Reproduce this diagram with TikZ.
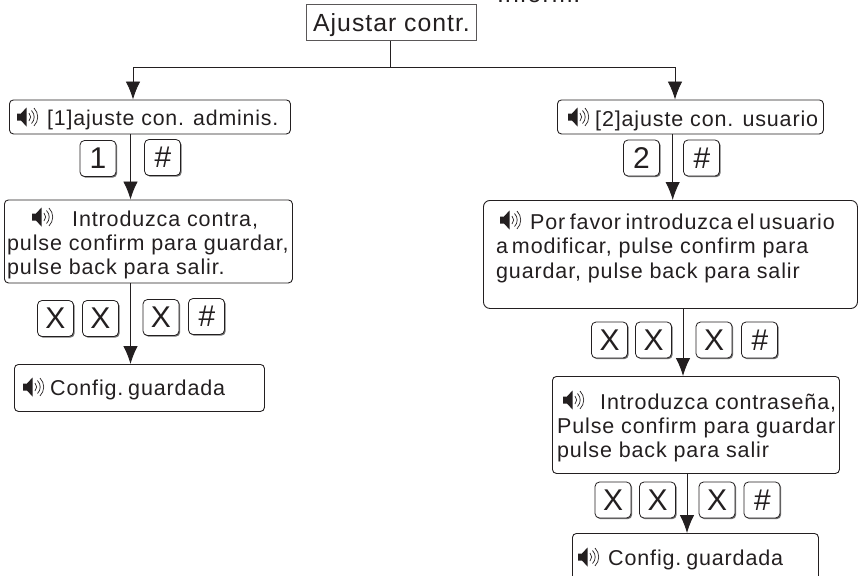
\documentclass[tikz,border=0pt]{standalone}
\usepackage{fontspec}
\usetikzlibrary{shadows,arrows.meta}
\setmainfont{Liberation Sans}
\newfontfamily\spaced[LetterSpace=4]{Liberation Sans}
\definecolor{ink}{HTML}{231F20}
\tikzset{
  flowbox/.style={draw=ink,line width=0.9pt,rounded corners=4pt,inner sep=0pt,anchor=north west},
  bigbox/.style={flowbox,rounded corners=6.5pt},
  titlebox/.style={flowbox,rounded corners=0pt,draw=ink!75},
  keycap/.style={draw=ink,line width=0.8pt,rounded corners=4.5pt,fill=white,inner sep=0pt,
    minimum width=36pt,minimum height=36pt,font=\fontsize{30}{30}\selectfont,text=ink,
    drop shadow={shadow xshift=1.2pt,shadow yshift=-1.2pt,fill=black!55,opacity=1}},
  keyhash/.style={keycap,font=\itshape\fontsize{30}{30}\selectfont},
  txt/.style={anchor=base west,inner sep=0pt,text=ink,font=\spaced\fontsize{21.5}{21.5}\selectfont},
  small/.style={txt,font=\spaced\fontsize{21.3}{21.3}\selectfont},
  big/.style={txt,font=\spaced\fontsize{24.8}{24.8}\selectfont},
  link/.style={draw=ink,line width=0.9pt},
  flow/.style={draw=ink,line width=0.9pt,-{Latex[length=18pt,width=14.5pt]}},
  snd/.pic={
    \fill[ink] (0,-3.5)--(4,-3.5)--(9.5,-9.5)--(9.5,9.5)--(4,3.5)--(0,3.5)--cycle;
    \draw[ink,line width=0.7pt] (12,-4) arc[start angle=-45,end angle=45,radius=5.66];
    \draw[ink,line width=0.7pt] (14.5,-6.5) arc[start angle=-45,end angle=45,radius=9.2];
    \draw[ink,line width=0.7pt] (17,-9) arc[start angle=-45,end angle=45,radius=12.7];
  }
}
\newcommand{\boxat}[6][flowbox]{\node[#1,minimum width=#5pt-#3pt,minimum height=#6pt-#4pt] (#2) at (#3,#4) {};}
\newcommand{\tight}{\spaceskip=2.5pt\relax}
\newcommand{\snug}{\spaceskip=4.5pt\relax}
\begin{document}
\begin{tikzpicture}[x=1pt,y=-1pt]
\useasboundingbox (0,0) rectangle (860,576);
\clip (0,0) rectangle (860,576);
% routing guides
\coordinate (xL) at (133,67);
\coordinate (xR) at (675,67);
\coordinate (xT) at (390,67);
\coordinate (x1) at (130.5,0);
\coordinate (x2) at (672.7,0);
\coordinate (x3) at (683,0);
\coordinate (x4) at (687,0);
% boxes
\boxat[titlebox]{top}{305.5}{3.5}{476}{40}
\boxat{a1}{9}{99.5}{290}{133.5}
\boxat{a2}{4}{199.5}{292}{282.5}
\boxat{a3}{14}{364}{264}{411}
\boxat{b1}{557}{99.5}{823}{133.5}
\boxat[bigbox]{b2}{483}{200}{857}{308}
\boxat{b3}{552}{376}{839}{473}
\boxat{b4}{572}{533}{818}{590}
% connectors
\draw[link] (top.south -| xT) -- (xT);
\draw[flow] (xL) -- (xL |- a1.north);
\draw[flow] (xR) -- (xR |- b1.north);
\draw[link] (xL) -- (xR);
\draw[flow] (x1 |- a1.south) -- (x1 |- a2.north);
\draw[flow] (x1 |- a2.south) -- (x1 |- a3.north);
\draw[flow] (x2 |- b1.south) -- (x2 |- b2.north);
\draw[flow] (x3 |- b2.south) -- (x3 |- b3.north);
\draw[flow] (x4 |- b3.south) -- (x4 |- b4.north);
% text
\node[big] (t0) at (313,31) {Ajustar contr.};
\node[small] (t1) at (47,125) {[1]ajuste con. adminis.};
\pic at (17,117) {snd};
\node[txt] (t2a) at (72,226) {Introduzca contra,};
\pic at (32,217) {snd};
\node[txt] (t2b) at (7,250) {pulse confirm para guardar,};
\node[txt] (t2c) at (7,274) {pulse back para salir.};
\node[txt] (t3) at (50,395) {\tight Config. guardada};
\pic at (23,387) {snd};
\node[txt] (t4) at (595,126) {[2]ajuste con. usuario};
\pic at (568,117) {snd};
\node[txt] (t5a) at (530,229) {\snug Por favor introduzca el usuario};
\pic at (500,220) {snd};
\node[txt] (t5b) at (496,253) {a\hspace{-3pt} modificar, pulse confirm para};
\node[txt] (t5c) at (496,278) {guardar, pulse back para salir};
\node[txt] (t6a) at (600,409) {Introduzca contraseña,};
\pic at (563,400) {snd};
\node[txt] (t6b) at (557,433) {Pulse confirm para guardar};
\node[txt] (t6c) at (557,457) {pulse back para salir};
\node[txt] (t7) at (608,565) {\tight Config. guardada};
\pic at (578,557) {snd};
\node[big] (t8) at (497,2.5) {Inform.};
% keys
\node[keycap] (k1) at (98,158.5) {1};
\node[keyhash] (k2) at (162.5,157.5) {\#};
\node[keycap] (k3) at (55.5,318.5) {X};
\node[keycap] (k4) at (100.5,318.5) {X};
\node[keycap] (k5) at (161,317.5) {X};
\node[keyhash] (k6) at (206.5,316.5) {\#};
\node[keycap] (k7) at (641.5,158) {2};
\node[keyhash] (k8) at (701.5,158) {\#};
\node[keycap] (k9) at (609.5,340) {X};
\node[keycap] (k10) at (653.5,340) {X};
\node[keycap] (k11) at (714,340) {X};
\node[keyhash] (k12) at (759.5,340) {\#};
\node[keycap] (k13) at (613,500) {X};
\node[keycap] (k14) at (657.5,500) {X};
\node[keycap] (k15) at (717,500) {X};
\node[keyhash] (k16) at (762,500) {\#};
\end{tikzpicture}
\end{document}
